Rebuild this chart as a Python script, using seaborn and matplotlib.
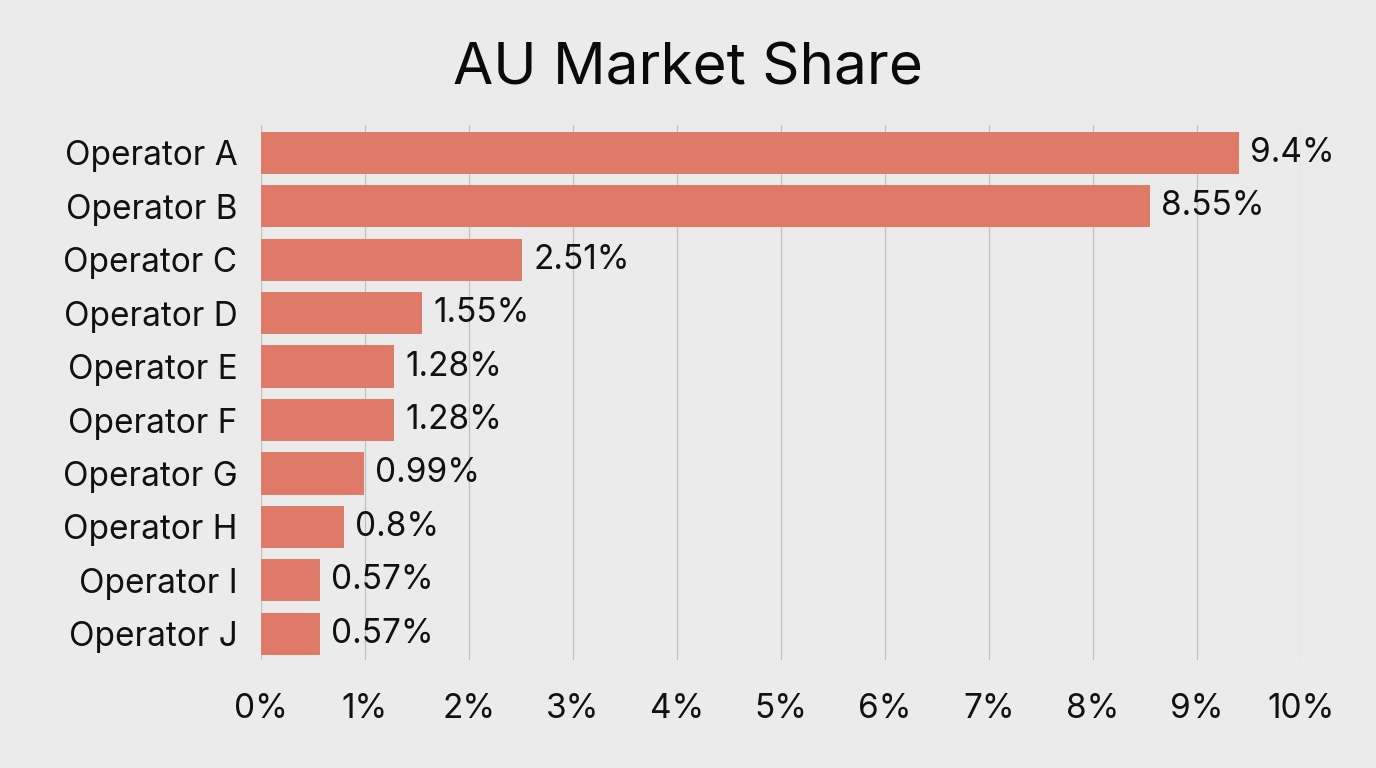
import pandas as pd
import matplotlib.pyplot as plt
import seaborn as sns

operators = ["Operator A", "Operator B", "Operator C", "Operator D", "Operator E",
             "Operator F", "Operator G", "Operator H", "Operator I", "Operator J"]
shares = [9.4, 8.55, 2.51, 1.55, 1.28, 1.28, 0.99, 0.8, 0.57, 0.57]
share_labels = ["9.4%", "8.55%", "2.51%", "1.55%", "1.28%",
                "1.28%", "0.99%", "0.8%", "0.57%", "0.57%"]
x_ticks = [0, 1, 2, 3, 4, 5, 6, 7, 8, 9, 10]

df = pd.DataFrame({"Operator": operators, "Share": shares})

sns.set_style("white")
plt.rcParams["font.family"] = ["Inter", "DejaVu Sans"]

bg = "#ebebeb"
fig = plt.figure(figsize=(13.76, 7.68), dpi=100, facecolor=bg)
ax = fig.add_axes([0.1897, 0.1406, 0.7558, 0.6966])
ax.set_facecolor(bg)

sns.barplot(data=df, x="Share", y="Operator", color="#e07a68",
            width=0.79, saturation=1, linewidth=0, ax=ax, zorder=2)

#value labels to the right of each bar
for i, (v, lab) in enumerate(zip(shares, share_labels)):
    ax.annotate(lab, (v, i), xytext=(8, 0), textcoords="offset points",
                va="center", ha="left", fontsize=24, color="#111111")

ax.set_xlim(0, 10)
ax.set_ylim(9.49, -0.52)
ax.set_xticks(x_ticks)
ax.set_xticklabels([f"{t}%" for t in x_ticks])
ax.grid(axis="x", color="#c0c0c0", linewidth=0.9, zorder=0)
ax.set_axisbelow(True)
for s in ax.spines.values():
    s.set_visible(False)
ax.tick_params(axis="x", length=0, pad=24, labelsize=24, labelcolor="#111111")
ax.tick_params(axis="y", length=0, pad=17, labelsize=24, labelcolor="#111111")
ax.set_xlabel("")
ax.set_ylabel("")

fig.suptitle("AU Market Share", x=0.5, y=0.945, fontsize=42, color="#0a0a0a")

fig.savefig("out.png", dpi=100, facecolor=bg)
